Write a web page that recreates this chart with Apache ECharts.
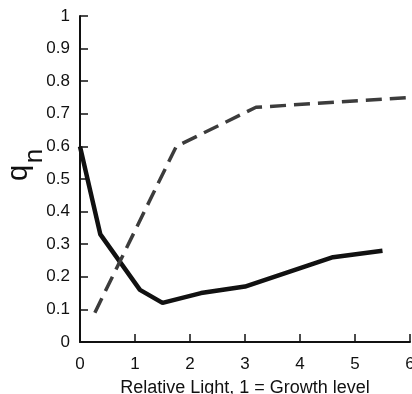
<!DOCTYPE html>
<html>
<head>
<meta charset="utf-8">
<script src="https://cdn.jsdelivr.net/npm/echarts@6/dist/echarts.min.js"></script>
<style>html,body{margin:0;padding:0;background:#fff}#c{width:412px;height:394px}</style>
</head>
<body>
<div id="c"></div>
<script>
const xTicks = [0, 1, 2, 3, 4, 5, 6];
const yTicks = [0, 0.1, 0.2, 0.3, 0.4, 0.5, 0.6, 0.7, 0.8, 0.9, 1];
const solidX = [0, 0.37, 1.09, 1.5, 2.2, 3.0, 4.6, 5.5];
const solidY = [0.60, 0.33, 0.16, 0.12, 0.15, 0.17, 0.26, 0.28];
const dashX = [0.27, 1.75, 3.2, 6.0];
const dashY = [0.09, 0.60, 0.72, 0.75];
const xTitle = 'Relative Light, 1 = Growth level';

const font = '"Liberation Sans", Arial, sans-serif';
const chart = echarts.init(document.getElementById('c'));
chart.setOption({
  animation: false,
  backgroundColor: '#fff',
  grid: { left: 80, right: 2, top: 16, bottom: 52, containLabel: false, outerBoundsMode: 'none' },
  xAxis: {
    type: 'value', min: xTicks[0], max: xTicks[xTicks.length - 1], interval: 1,
    name: xTitle, nameLocation: 'middle', nameGap: 37,
    nameTextStyle: { fontFamily: font, fontSize: 18, color: '#111' },
    axisLine: { show: true, lineStyle: { color: '#111', width: 2 } },
    axisTick: { show: true, inside: true, length: 8, lineStyle: { color: '#111', width: 1.5 } },
    axisLabel: { fontFamily: font, fontSize: 17, color: '#111', margin: 14, hideOverlap: false },
    splitLine: { show: false }
  },
  yAxis: {
    type: 'value', min: yTicks[0], max: yTicks[yTicks.length - 1], interval: 0.1,
    axisLine: { show: true, lineStyle: { color: '#111', width: 2 } },
    axisTick: { show: true, inside: true, length: 8, lineStyle: { color: '#111', width: 1.5 } },
    axisLabel: { fontFamily: font, fontSize: 17, color: '#111', margin: 10,
      formatter: v => (v === 0 || v === 1) ? String(v) : v.toFixed(1) },
    splitLine: { show: false }
  },
  graphic: [
    { type: 'text', rotation: Math.PI / 2, x: 19, y: 173,
      style: { text: 'q', fontFamily: font, fontSize: 29, fill: '#111', align: 'center', verticalAlign: 'middle' } },
    { type: 'text', rotation: Math.PI / 2, x: 35, y: 156,
      style: { text: 'n', fontFamily: font, fontSize: 26, fill: '#111', align: 'center', verticalAlign: 'middle' } }
  ],
  series: [
    { type: 'line', data: solidX.map((x, i) => [x, solidY[i]]), showSymbol: false,
      lineStyle: { color: '#111', width: 4.5 } },
    { type: 'line', data: dashX.map((x, i) => [x, dashY[i]]), showSymbol: false,
      lineStyle: { color: '#3c3c3c', width: 3.5, type: [16, 8] } }
  ]
});
</script>
</body>
</html>
